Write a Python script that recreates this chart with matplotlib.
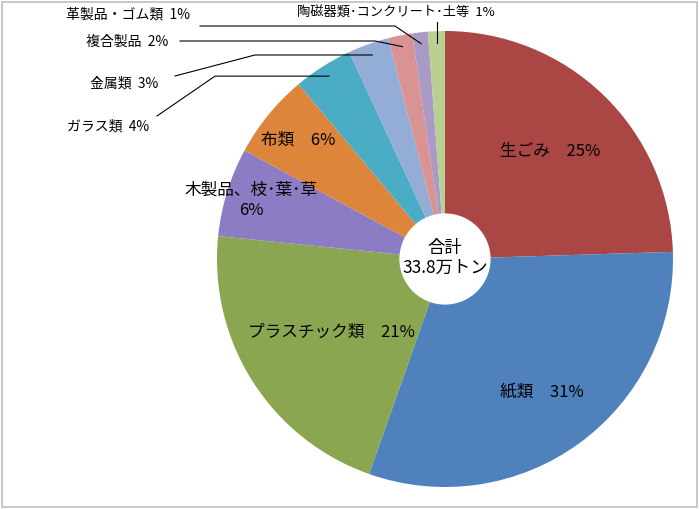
import matplotlib
matplotlib.use("Agg")
import matplotlib.pyplot as plt
import numpy as np
from matplotlib.patches import Circle, Rectangle

plt.rcParams['font.family'] = ['Noto Sans CJK JP', 'DejaVu Sans']

# ごみの組成（%）: 時計回り、12時から
names = ['生ごみ', '紙類', 'プラスチック類', '木製品、枝･葉･草', '布類',
         'ガラス類', '金属類', '複合製品', '革製品・ゴム類', '陶磁器類･コンクリート･土等']
shares = [24.5, 30.9, 21.2, 6.3, 6.0, 4.2, 2.9, 1.7, 1.1, 1.2]
pct_text = ['25%', '31%', '21%', '6%', '6%', '4%', '3%', '2%', '1%', '1%']
colors = ['#AA4644', '#4F81BD', '#8BA650', '#8C7CC3', '#DE853C',
          '#4BACC6', '#94ADD6', '#D99392', '#A99BC5', '#B9D093']
total_text = '合計\n33.8万トン'

W, H = 700, 510
CX, CY, R = 445, 260, 228


def px(x, y):
    # 画像のピクセル位置 -> データ座標
    return (x - CX) / R, (CY - y) / R


fig = plt.figure(figsize=(7, 5.1), dpi=100)
ax = fig.add_axes([0, 0, 1, 1])
wedges, _ = ax.pie(shares, colors=colors, startangle=90, counterclock=False,
                   radius=1, wedgeprops=dict(linewidth=0))
ax.add_patch(Circle((0, 0), 0.2, facecolor='white', edgecolor='none', zorder=5))
ax.text(0, 0.01, total_text, ha='center', va='center', fontsize=12.5,
        linespacing=1.15, zorder=6)

ax.set_xlim(-CX / R, (W - CX) / R)
ax.set_ylim((CY - H) / R, CY / R)
ax.set_aspect('equal')
ax.axis('off')


def mid_point(i, r):
    w = wedges[i]
    a = np.deg2rad((w.theta1 + w.theta2) / 2)
    return r * np.cos(a), r * np.sin(a)


# 内側のラベル
inner = {0: 0.66, 1: 0.72, 2: 0.59, 3: 0.89, 4: 0.83}
for i, r in inner.items():
    x, y = mid_point(i, r)
    if i == 3:
        s = names[i] + '\n' + pct_text[i]
    else:
        s = names[i] + '\u3000' + pct_text[i]
    ax.text(x, y, s, ha='center', va='center', fontsize=12, linespacing=1.2)

# 外側のラベルと引き出し線
outer = {
    5: dict(text=(149, 127), start=(157, 117), elbow=(215, None)),
    6: dict(text=(158, 83), start=(175, 77), elbow=(255, None)),
    7: dict(text=(168, 42), start=(180, 42), elbow=(375, 42)),
    8: dict(text=(190, 14), start=(200, 27), elbow=(395, 27)),
}
for i, o in outer.items():
    ex, ey = mid_point(i, 0.95)
    tx, ty = px(*o['text'])
    ax.text(tx, ty, names[i] + '  ' + pct_text[i], ha='right', va='center',
            fontsize=10)
    sx, sy = px(*o['start'])
    bx = px(o['elbow'][0], 0)[0]
    by = ey if o['elbow'][1] is None else px(0, o['elbow'][1])[1]
    ax.plot([sx, bx, ex], [sy, by, ey], color='black', lw=0.8, zorder=4)

ex, ey = mid_point(9, 0.95)
tx, ty = px(396, 13)
ax.text(tx, ty, names[9] + '  ' + pct_text[9], ha='center', va='center',
        fontsize=9.5)
ax.plot([ex, ex], [px(0, 23)[1], ey], color='black', lw=0.8, zorder=4)

fig.add_artist(Rectangle((2 / W, 2 / H), 695 / W, 505 / H, transform=fig.transFigure,
                         fill=False, edgecolor='#BFBFBF', linewidth=1.2))

fig.savefig('out.png', dpi=100)
